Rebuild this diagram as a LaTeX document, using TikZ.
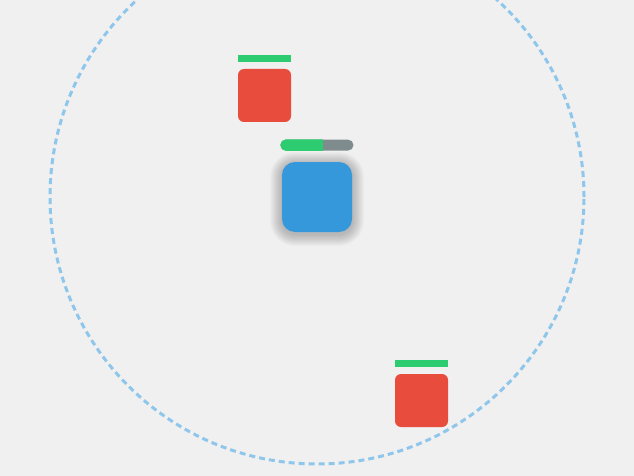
\documentclass[tikz,border=0pt]{standalone}
\usetikzlibrary{positioning}
\definecolor{gamebg}{RGB}{240,240,240}
\definecolor{gameblue}{RGB}{52,152,219}
\definecolor{gamered}{RGB}{231,76,60}
\definecolor{gamegreen}{RGB}{46,204,113}
\definecolor{gamegray}{RGB}{127,140,141}
\tikzset{
  %% ---- units ----
  player/.style = {rectangle, rounded corners=13pt, fill=gameblue,
                   minimum width=70pt, minimum height=70pt, inner sep=0pt},
  enemy/.style  = {rectangle, rounded corners=6pt, fill=gamered,
                   minimum width=53pt, minimum height=53pt, inner sep=0pt},
  %% ---- bars ----
  enemyhp/.style = {rectangle, fill=gamegreen, minimum width=53pt,
                   minimum height=7pt, inner sep=0pt},
  playerhp/.style = {rectangle, rounded corners=5.5pt, fill=gamegray,
                   minimum width=73pt, minimum height=11pt, inner sep=0pt},
  aoering/.style = {circle, draw=gameblue!55, line width=3pt,
                   dash pattern=on 6pt off 4pt, inner sep=0pt},
  softshadow/.style = {fill=black, opacity=0.02},
}
\begin{document}
\begin{tikzpicture}[x=1pt, y=-1pt]
\fill[gamebg] (0,0) rectangle (634,476);
\useasboundingbox (0,0) rectangle (634,476);
\coordinate (heropos) at (317,197);
% soft shadow under the player
\foreach \r in {1,...,12}
  \fill[softshadow, rounded corners=13pt+\r pt]
    ([xshift=-35pt-\r pt, yshift=-37pt-\r pt]heropos) rectangle
    ([xshift=35pt+\r pt, yshift=33pt+\r pt]heropos);
\node[player]                        (hero)    at (heropos) {};
\node[aoering, minimum size=534pt]   (aura)    at (hero) {};
\node[playerhp, above=11pt of hero]  (herohp)  {};
\begin{scope}
  \clip[rounded corners=5.5pt] (herohp.south west) rectangle (herohp.north east);
  \fill[gamegreen] (herohp.south west) rectangle ([xshift=42.5pt]herohp.north west);
\end{scope}
\node[enemy]                         (enemyA)  at (264.5,95.5) {};
\node[enemyhp, above=7pt of enemyA]  (enemyAhp) {};
\node[enemy]                         (enemyB)  at (421.5,400.5) {};
\node[enemyhp, above=7pt of enemyB]  (enemyBhp) {};
\end{tikzpicture}
\end{document}
